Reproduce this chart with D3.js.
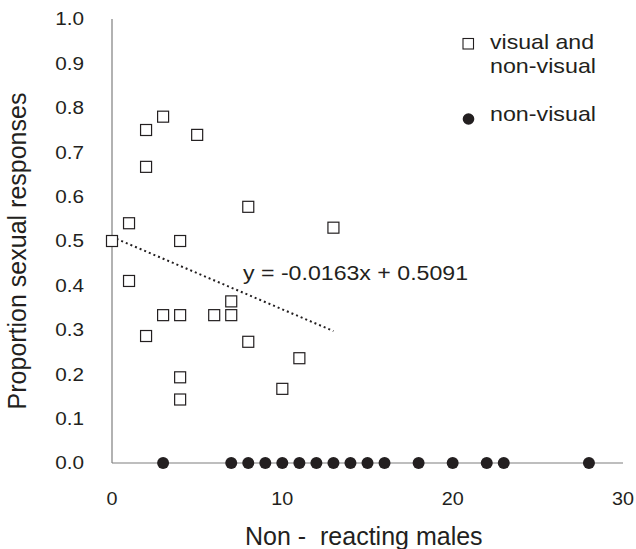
<!DOCTYPE html>
<html>
<head>
<meta charset="utf-8">
<script src="https://cdn.jsdelivr.net/npm/d3@7"></script>
<style>
  body { margin: 0; background: #fff; }
  text { font-family: "Liberation Sans", Arial, sans-serif; fill: #231f20; }
</style>
</head>
<body>
<div id="chart"></div>
<script>
// Data
var visualX = [0, 1, 1, 2, 2, 2, 3, 3, 4, 4, 4, 4, 5, 6, 7, 7, 8, 8, 10, 11, 13];
var visualY = [0.5, 0.54, 0.41, 0.75, 0.667, 0.286, 0.78, 0.333, 0.5, 0.333, 0.193, 0.143,
  0.739, 0.333, 0.333, 0.364, 0.577, 0.273, 0.167, 0.236, 0.53];
var nonVisualX = [3, 7, 8, 9, 10, 11, 12, 13, 14, 15, 16, 18, 20, 22, 23, 28];
var nonVisualY = [0, 0, 0, 0, 0, 0, 0, 0, 0, 0, 0, 0, 0, 0, 0, 0];
var xTicks = [0, 10, 20, 30];
var yTicks = [0, 0.1, 0.2, 0.3, 0.4, 0.5, 0.6, 0.7, 0.8, 0.9, 1.0];
var trendSlope = -0.0163;
var trendIntercept = 0.5091;
var legendLabels = [["visual and", "non-visual"], ["non-visual"]];

var width = 636, height = 549;

var svg = d3.select("#chart")
  .append("svg")
  .attr("width", width)
  .attr("height", height);

// Scales
var xScale = d3.scaleLinear().domain([0, 30]).range([112, 623]);
var yScale = d3.scaleLinear().domain([0, 1]).range([463, 19]);

// Axis lines only (no tick marks)
svg.append("line")
  .attr("x1", xScale(0)).attr("x2", xScale(0))
  .attr("y1", yScale(0)).attr("y2", yScale(1))
  .attr("stroke", "#7f7f7f").attr("stroke-width", 1.2);
svg.append("line")
  .attr("x1", xScale(0)).attr("x2", xScale(30))
  .attr("y1", yScale(0)).attr("y2", yScale(0))
  .attr("stroke", "#7f7f7f").attr("stroke-width", 1.2);

// Y tick labels
svg.selectAll(".ytick")
  .data(yTicks)
  .enter()
  .append("text")
  .attr("class", "ytick")
  .attr("transform", function (d) {
    return "translate(84," + yScale(d) + ") scale(1.12,1)";
  })
  .attr("dy", "0.35em")
  .style("text-anchor", "end")
  .style("font-size", "18.5px")
  .text(d3.format(".1f"));

// X tick labels
svg.selectAll(".xtick")
  .data(xTicks)
  .enter()
  .append("text")
  .attr("class", "xtick")
  .attr("transform", function (d) {
    return "translate(" + xScale(d) + ",505) scale(1.07,1)";
  })
  .style("text-anchor", "middle")
  .style("font-size", "18.5px")
  .text(function (d) { return d; });

// Axis titles
svg.append("text")
  .attr("transform", "translate(26,251) rotate(-90)")
  .style("text-anchor", "middle")
  .style("font-size", "25px")
  .text("Proportion sexual responses");

svg.append("text")
  .attr("x", 245)
  .attr("y", 545)
  .style("font-size", "25px")
  .style("white-space", "pre")
  .text("Non -  reacting males");

// Trend line over the range of the visual data
var trendExtent = d3.extent(visualX);
svg.append("line")
  .attr("x1", xScale(trendExtent[0]))
  .attr("y1", yScale(trendIntercept + trendSlope * trendExtent[0]))
  .attr("x2", xScale(trendExtent[1]))
  .attr("y2", yScale(trendIntercept + trendSlope * trendExtent[1]))
  .attr("stroke", "#231f20")
  .attr("stroke-width", 2)
  .attr("stroke-dasharray", "2,3");

svg.append("text")
  .attr("x", 243)
  .attr("y", 279.5)
  .attr("textLength", 225)
  .attr("lengthAdjust", "spacingAndGlyphs")
  .style("font-size", "20px")
  .text("y = -0.0163x + 0.5091");

// Non-visual points (filled circles)
svg.selectAll(".nv")
  .data(nonVisualX)
  .enter()
  .append("circle")
  .attr("class", "nv")
  .attr("cx", function (d) { return xScale(d); })
  .attr("cy", function (d, i) { return yScale(nonVisualY[i]); })
  .attr("r", 6)
  .attr("fill", "#231f20");

// Visual and non-visual points (open squares)
var sq = 11;
svg.selectAll(".vis")
  .data(visualX)
  .enter()
  .append("rect")
  .attr("class", "vis")
  .attr("x", function (d) { return xScale(d) - sq / 2; })
  .attr("y", function (d, i) { return yScale(visualY[i]) - sq / 2; })
  .attr("width", sq)
  .attr("height", sq)
  .attr("fill", "#fff")
  .attr("stroke", "#231f20")
  .attr("stroke-width", 1.2);

// Legend
svg.append("rect")
  .attr("x", 463).attr("y", 38.5)
  .attr("width", 10.5).attr("height", 10.5)
  .attr("fill", "#fff")
  .attr("stroke", "#231f20")
  .attr("stroke-width", 1.1);
svg.append("circle")
  .attr("cx", 468.5).attr("cy", 119)
  .attr("r", 5.8)
  .attr("fill", "#231f20");

var legendRows = [
  { text: legendLabels[0][0], y: 49.3, w: 104 },
  { text: legendLabels[0][1], y: 72.7, w: 106 },
  { text: legendLabels[1][0], y: 121, w: 106 }
];
svg.selectAll(".leg")
  .data(legendRows)
  .enter()
  .append("text")
  .attr("class", "leg")
  .attr("x", 490)
  .attr("y", function (d) { return d.y; })
  .attr("textLength", function (d) { return d.w; })
  .attr("lengthAdjust", "spacingAndGlyphs")
  .style("font-size", "21px")
  .text(function (d) { return d.text; });
</script>
</body>
</html>
